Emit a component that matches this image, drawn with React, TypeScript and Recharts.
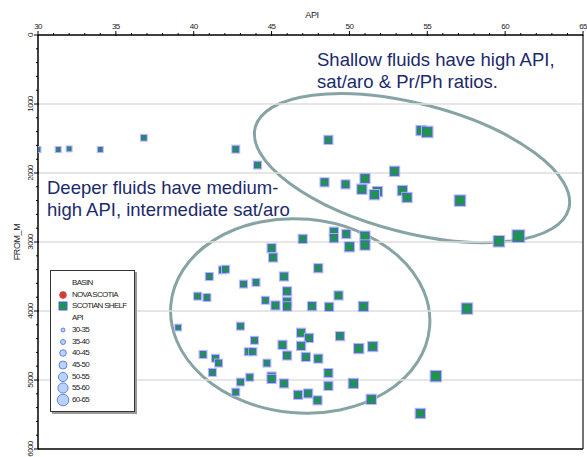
import {
  ScatterChart,
  Scatter,
  XAxis,
  YAxis,
  ReferenceLine,
  ReferenceArea,
  Legend
} from 'recharts';

// API gravity and depth (FROM_M) of the SCOTIAN SHELF samples
const apiValues = [
  30.0, 31.3, 32.0, 34.0, 36.8, 42.7, 44.1, 48.65, 54.6, 55.0,
  52.9, 48.4, 49.75, 51.0, 50.8, 51.8, 51.6, 53.4, 53.7, 57.1,
  59.6, 60.85, 47.0, 49.0, 49.0, 49.8, 51.0, 51.0, 50.0, 48.0,
  45.8, 46.0, 46.0, 46.0, 49.3, 47.6, 48.7, 50.9, 57.55, 46.9,
  47.4, 49.4, 45.0, 45.1, 41.0, 41.85, 42.05, 43.2, 44.0, 40.25,
  40.85, 44.6, 45.25, 39.0, 43.0, 43.9, 45.7, 46.9, 43.5, 43.8,
  40.6, 41.4, 41.6, 46.0, 47.2, 48.0, 50.6, 51.5, 44.7, 41.2,
  48.65, 43.0, 43.6, 45.0, 45.0, 45.8, 50.25, 48.65, 42.7, 46.7,
  47.35, 47.95, 51.4, 54.55, 55.55
];
const depthValues = [
  1660, 1660, 1650, 1660, 1490, 1655, 1885, 1520, 1385, 1405,
  1975, 2135, 2165, 2080, 2235, 2270, 2315, 2255, 2355, 2400,
  2990, 2915, 2955, 2850, 2945, 2885, 2915, 3045, 3070, 3380,
  3500, 3715, 3865, 3935, 3775, 3930, 3940, 3935, 3965, 4315,
  4390, 4365, 3090, 3225, 3500, 3405, 3395, 3610, 3585, 3785,
  3805, 3845, 3920, 4240, 4220, 4425, 4490, 4505, 4590, 4590,
  4630, 4685, 4755, 4645, 4665, 4690, 4545, 4515, 4755, 4890,
  4900, 5030, 4960, 4950, 4985, 5050, 5050, 5085, 5175, 5215,
  5195, 5295, 5280, 5485, 4945
];

const basins = ['NOVA SCOTIA', 'SCOTIAN SHELF'];
const apiBins = ['30-35', '35-40', '40-45', '45-50', '50-55', '55-60', '60-65'];
const xMajorTicks = [30, 35, 40, 45, 50, 55, 60, 65];
const yMajorTicks = [0, 1000, 2000, 3000, 4000, 5000, 6000];
const gridDepths = [1000, 2000, 3000, 4000, 5000];

const xTicks = Array.from({ length: 36 }, (_, i) => 30 + i);
const yTicks = Array.from({ length: 31 }, (_, i) => i * 200);

const data = apiValues.map((api, i) => ({ api, depth: depthValues[i] }));

// marker side (px) for each API bin
const binSizes = [5, 5.8, 7, 8.2, 9.3, 10.5, 11.8];
const legendRadius = [2, 2.5, 3.3, 4, 4.6, 5.1, 5.8];

// annotation ellipses, centre and half axes in data units, tilt in degrees
const ellipses = [
  { api: 54.02, depth: 1928, halfApi: 10.4, halfDepth: 935, tilt: 14.5 },
  { api: 46.84, depth: 4072, halfApi: 8.34, halfDepth: 1406, tilt: 5 }
];

const FONT = '"Liberation Sans", Arial, sans-serif';
const GREEN = '#1e944f';
const NAVY = '#1b2a6b';

function binIndex(api: number) {
  return Math.max(0, Math.min(6, Math.floor((api - 30) / 5)));
}

function SquareMarker(props: any) {
  const { cx, cy, payload } = props;
  if (cx == null || cy == null) return null;
  const s = binSizes[binIndex(payload.api)];
  return (
    <g>
      <rect x={cx - (s + 1) / 2} y={cy - (s + 1) / 2} width={s + 1} height={s + 1}
        fill='none' stroke='#b3bbef' strokeWidth={1} />
      <rect x={cx - (s - 1) / 2} y={cy - (s - 1) / 2} width={s - 1} height={s - 1}
        fill={GREEN} stroke='#4b5fd3' strokeWidth={1} />
    </g>
  );
}

function XTick(props: any) {
  const { x, y, payload } = props;
  const major = xMajorTicks.includes(payload.value);
  return (
    <g>
      <line x1={x} x2={x} y1={y + (major ? 1 : 0)} y2={y - (major ? 4 : 2)} stroke='#000' strokeWidth={1} />
      {major && (
        <text x={x} y={y - 6} textAnchor='middle' fontSize={8} letterSpacing={-0.6}
          fontFamily={FONT} fill='#222'>
          {payload.value}
        </text>
      )}
    </g>
  );
}

function YTick(props: any) {
  const { x, y, payload } = props;
  const major = yMajorTicks.includes(payload.value);
  const tx = x - 7.7;
  return (
    <g>
      <line x1={x + (major ? 1 : 0)} x2={x - (major ? 4 : 2)} y1={y} y2={y} stroke='#000' strokeWidth={1} />
      {major && (
        <text x={tx} y={y} textAnchor='middle' dominantBaseline='central' fontSize={8}
          letterSpacing={-0.6} fontFamily={FONT} fill='#222' transform={`rotate(-90 ${tx} ${y})`}>
          {payload.value}
        </text>
      )}
    </g>
  );
}

function ellipseShape(tilt: number) {
  return (props: any) => {
    const { x, y, width, height } = props;
    const cx = x + width / 2;
    const cy = y + height / 2;
    return (
      <ellipse cx={cx} cy={cy} rx={width / 2} ry={height / 2}
        transform={`rotate(${tilt} ${cx} ${cy})`}
        fill='none' stroke='#87a4a4' strokeWidth={3} />
    );
  };
}

function LegendBox() {
  const rowH = 11.7;
  const rows: { label: string; marker: any }[] = [
    { label: 'BASIN', marker: null },
    { label: basins[0], marker: <circle cx={6} cy={6} r={3.4} fill='#e0362d' stroke='#b85a6a' strokeWidth={0.8} /> },
    { label: basins[1], marker: <rect x={2} y={2} width={8} height={8} fill={GREEN} stroke='#4b5fd3' strokeWidth={1} /> },
    { label: 'API', marker: null },
    ...apiBins.map((b, i) => ({
      label: b,
      marker: <circle cx={6} cy={6} r={legendRadius[i]} fill='#b9d2ff' stroke='#5579e0' strokeWidth={0.9} />
    }))
  ];
  return (
    <div style={{
      position: 'relative', width: 85, height: 142, boxSizing: 'border-box',
      border: '1px solid #333', background: '#fff', boxShadow: '2px 2px 0 #9a9a9a',
      fontFamily: FONT, fontSize: 8, letterSpacing: -0.7, color: '#222'
    }}>
      {rows.map((r, i) => (
        <div key={r.label} style={{ position: 'absolute', left: 0, top: 13 + i * rowH - 6 - 1, height: 12, width: 84 }}>
          {r.marker && (
            <svg width={12} height={12} style={{ position: 'absolute', left: 6, top: 0, overflow: 'visible' }}>
              {r.marker}
            </svg>
          )}
          <span style={{ position: 'absolute', left: 21, top: 0, lineHeight: '12px', whiteSpace: 'nowrap' }}>
            {r.label}
          </span>
        </div>
      ))}
    </div>
  );
}

export default function App() {
  return (
    <div style={{ position: 'absolute', left: 0, top: 0, width: 587, height: 457, background: '#fff' }}>
      <ScatterChart width={587} height={457} margin={{ top: 0, right: 4, bottom: 8, left: 0 }}>
        <XAxis
          type='number'
          dataKey='api'
          orientation='top'
          domain={[30, 65]}
          ticks={xTicks}
          interval={0}
          height={35}
          tickSize={0}
          tickMargin={0}
          tickLine={false}
          tick={<XTick />}
          axisLine={{ stroke: '#000', strokeWidth: 1.5 }}
          allowDataOverflow
        />
        <YAxis
          type='number'
          dataKey='depth'
          reversed
          domain={[0, 6000]}
          ticks={yTicks}
          interval={0}
          width={38}
          tickSize={0}
          tickMargin={0}
          tickLine={false}
          tick={<YTick />}
          axisLine={{ stroke: '#000', strokeWidth: 1.5 }}
          allowDataOverflow
        />
        {gridDepths.map(d => (
          <ReferenceLine key={d} y={d} stroke='#dedede' strokeWidth={1.5} />
        ))}
        <ReferenceLine x={65} stroke='#444' strokeWidth={1.5} />
        <ReferenceLine y={6000} stroke='#000' strokeWidth={1.5} />
        {ellipses.map((e, i) => (
          <ReferenceArea
            key={i}
            x1={e.api - e.halfApi}
            x2={e.api + e.halfApi}
            y1={e.depth - e.halfDepth}
            y2={e.depth + e.halfDepth}
            ifOverflow='visible'
            shape={ellipseShape(e.tilt)}
          />
        ))}
        <Scatter data={data} shape={<SquareMarker />} isAnimationActive={false} />
        <Legend
          layout='horizontal'
          verticalAlign='middle'
          align='center'
          content={<LegendBox />}
          wrapperStyle={{ position: 'absolute', left: 50, top: 270, width: 85, height: 142 }}
        />
      </ScatterChart>
      <svg width={587} height={457} style={{ position: 'absolute', left: 0, top: 0, pointerEvents: 'none' }}>
        <text x={312} y={18} textAnchor='middle' fontSize={9} letterSpacing={-0.4} fontFamily={FONT} fill='#222'>
          API
        </text>
        <text x={16.5} y={242} textAnchor='middle' dominantBaseline='central' fontSize={9}
          letterSpacing={-0.4} fontFamily={FONT} fill='#222' transform='rotate(-90 16.5 242)'>
          FROM_M
        </text>
        <text fontFamily={FONT} fontSize={18.5} fill={NAVY}>
          <tspan x={317} y={66}>Shallow fluids have high API,</tspan>
          <tspan x={317} y={88}>sat/aro &amp; Pr/Ph ratios.</tspan>
        </text>
        <text fontFamily={FONT} fontSize={18.5} fill={NAVY}>
          <tspan x={47} y={194}>Deeper fluids have medium-</tspan>
          <tspan x={47} y={216}>high API, intermediate sat/aro</tspan>
        </text>
      </svg>
    </div>
  );
}
